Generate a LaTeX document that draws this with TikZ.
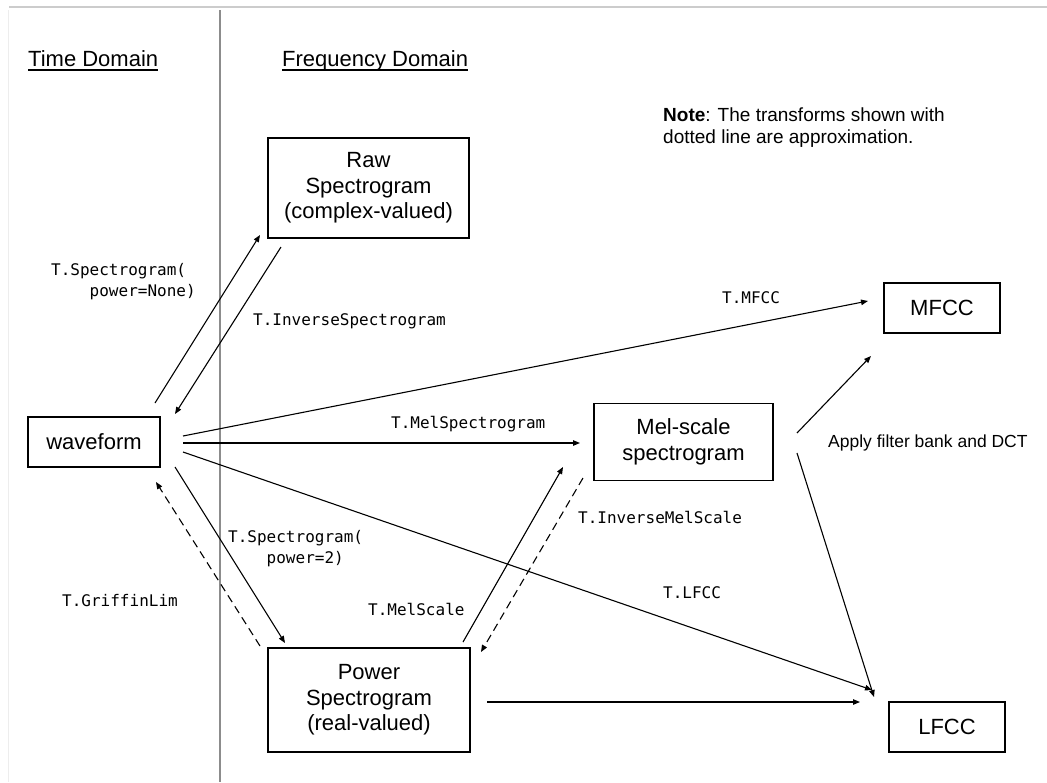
\documentclass[tikz,border=0pt]{standalone}
\usepackage{fontspec}
\setmainfont{Liberation Sans}
\setmonofont{DejaVu Sans Mono}
\usetikzlibrary{arrows.meta,calc}
\newcommand\boxfont{\fontsize{22}{25.5}\selectfont}
\newcommand\codefont{\ttfamily\fontsize{16}{21}\selectfont}
\newcommand\notefont{\fontsize{19}{22}\selectfont}
\newcommand\headfont{\fontsize{22}{26}\selectfont}
\newcommand\applyfont{\fontsize{17.5}{20}\selectfont}
\begin{document}
\begin{tikzpicture}[x=1pt,y=-1pt,
  box/.style={draw, line width=1.2pt, inner sep=0pt, align=center, font=\boxfont},
  code/.style={font=\codefont, inner sep=0pt, align=left},
  arr/.style={line width=1.1pt, -{Triangle[length=7pt,width=5.5pt]}},
  dsh/.style={arr, dash pattern=on 8pt off 5pt},
  head/.style={anchor=base west, inner sep=0pt, font=\headfont},
  uline/.style={line width=1.3pt}
  ]
\useasboundingbox (0,0) rectangle (1047,782);
\fill[white] (0,0) rectangle (1047,782);
% frame and divider
\draw[black!20, line width=1.5pt] (9,7) -- (1047,7);
\draw[black!7, line width=1pt] (8,10) -- (8,782);
\draw[black!45, line width=1.3pt] (220,10) -- (220,782);

% headers
\node[head] (td) at (28,66) {Time Domain};
\draw[uline] ($(td.base west)+(0,4)$) -- ($(td.base east)+(0,4)$);
\node[head] (fd) at (282,66) {Frequency Domain};
\draw[uline] ($(fd.base west)+(0,4)$) -- ($(fd.base east)+(0,4)$);

% note
\node[anchor=north west, inner sep=0pt, align=left, font=\notefont] (note) at (663,108)
  {\textbf{Note}: The transforms shown with\\dotted line are approximation.};

% boxes
\node[box, minimum width=132pt, minimum height=50pt] (wave) at (94,442) {waveform};
\node[box, minimum width=201pt, minimum height=100pt] (raw) at (368.5,188) {Raw\\Spectrogram\\(complex-valued)};
\node[box, minimum width=116pt, minimum height=50pt] (mfcc) at (942,308) {MFCC};
\node[box, minimum width=179pt, minimum height=77pt] (mel) at (683.5,442) {Mel-scale\\spectrogram};
\node[box, minimum width=202pt, minimum height=104pt] (power) at (369,700) {Power\\Spectrogram\\(real-valued)};
\node[box, minimum width=116pt, minimum height=50pt] (lfcc) at (947,727) {LFCC};

% connector end points
\coordinate (w1) at (155,403); \coordinate (r1) at (260,235);
\coordinate (r2) at (281,247); \coordinate (w2) at (175,414);
\coordinate (w3) at (183,436); \coordinate (m3) at (868,301);
\coordinate (w4) at (183,443); \coordinate (e4) at (580,443);
\coordinate (w5) at (183,452); \coordinate (l5) at (872,690);
\coordinate (w6) at (175,467); \coordinate (p6) at (285,643);
\coordinate (p7) at (260,646); \coordinate (w7) at (156,482);
\coordinate (p8) at (463,642); \coordinate (e8) at (563,467);
\coordinate (e9) at (583,478); \coordinate (p9) at (481,652);
\coordinate (e10) at (797,433); \coordinate (m10) at (871,356);
\coordinate (e11) at (797,453); \coordinate (l11) at (874,697);
\coordinate (p12) at (487,702); \coordinate (l12) at (860,702);

% connectors
\draw[arr] (w1) -- (r1);
\draw[arr] (r2) -- (w2);
\draw[arr] (w3) -- (m3);
\draw[arr] (w4) -- (e4);
\draw[arr] (w5) -- (l5);
\draw[arr] (w6) -- (p6);
\draw[dsh] (p7) -- (w7);
\draw[arr] (p8) -- (e8);
\draw[dsh] (e9) -- (p9);
\draw[arr] (e10) -- (m10);
\draw[arr] (e11) -- (l11);
\draw[arr] (p12) -- (l12);

% labels
\node[code, anchor=north west] (lsp1) at (51,263) {T.Spectrogram(\\\hphantom{0000}power=None)};
\node[code, anchor=base west] (linv) at (253,325) {T.InverseSpectrogram};
\node[code, anchor=base west] (lmfcc) at (722,303) {T.MFCC};
\node[code, anchor=base west] (lmel) at (391,428) {T.MelSpectrogram};
\node[code, anchor=base west] (linvmel) at (578,523) {T.InverseMelScale};
\node[code, anchor=north west] (lsp2) at (228,530) {T.Spectrogram(\\\hphantom{0000}power=2)};
\node[code, anchor=base west] (llfcc) at (663,598) {T.LFCC};
\node[code, anchor=base west] (lmels) at (368,615) {T.MelScale};
\node[code, anchor=base west] (lgl) at (62,606) {T.GriffinLim};
\node[anchor=base west, inner sep=0pt, font=\applyfont] (apply) at (828,447) {Apply filter bank and DCT};
\end{tikzpicture}
\end{document}
